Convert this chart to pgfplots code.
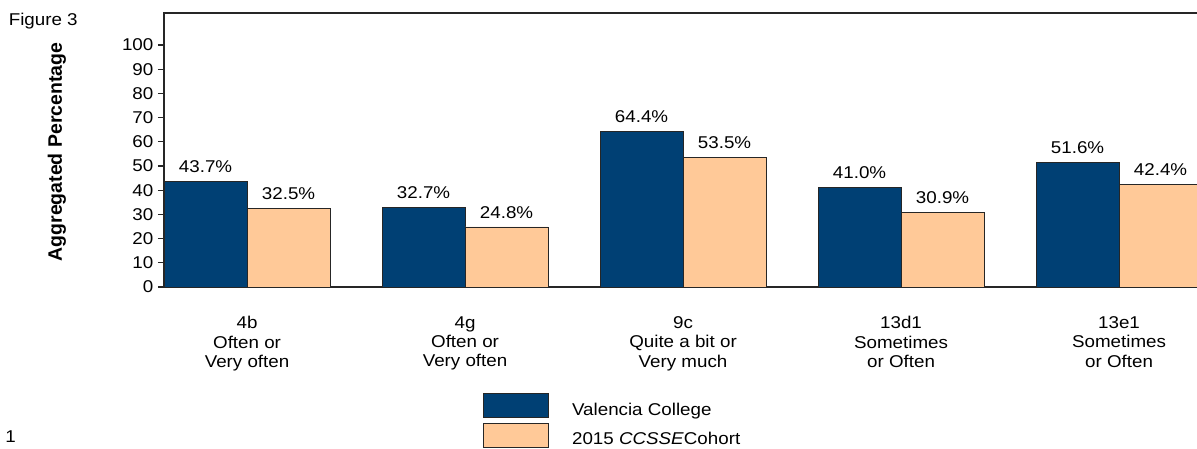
\documentclass[border=0pt]{standalone}
\usepackage{pgfplots}
\pgfplotsset{compat=1.18}
\usepackage{fontspec}
\setmainfont{Liberation Sans}[FakeStretch=1.1]
\newfontfamily\ylabfont{Liberation Sans}
\definecolor{vblue}{RGB}{0,64,116}
\definecolor{vpeach}{RGB}{255,201,152}
\begin{document}
\fontsize{12.8}{14.6}\selectfont
\begin{tikzpicture}
\begin{axis}[
  at={(0,0)}, anchor=south west,
  x=163.5pt, y=1.815pt,
  xmin=-0.381, xmax=4.381, ymin=0, ymax=113.2,
  axis line style={draw=black!85, line width=0.9pt},
  ybar, bar width=62.25pt,
  ytick={0,10,...,100},
  xtick={0,1,2,3,4},
  xticklabels={{4b\\Often or\\Very often},{4g\\Often or\\Very often},{9c\\Quite a bit or\\Very much},{13d1\\Sometimes\\or Often},{13e1\\Sometimes\\or Often}},
  x tick style={draw=none},
  y tick style={draw=black!85, line width=0.9pt},
  tick align=outside,
  major tick length=4.5pt,
  /pgf/number format/assume math mode=true,
  tick label style={font=\fontsize{12.8}{14.6}\selectfont},
  xticklabel style={align=center, yshift=-13pt},
  yticklabel style={xshift=1pt},
  ylabel={Aggregated Percentage},
  ylabel style={font=\ylabfont\bfseries\fontsize{14.6}{16}\selectfont, at={(axis description cs:-0.1031,0.4927)}, anchor=center},
  nodes near coords, point meta=explicit symbolic,
  every node near coord/.append style={font=\fontsize{12.8}{14.6}\selectfont, text=black, yshift=2pt},
  legend image code/.code={\draw[#1] (0pt,-9pt) rectangle (48.75pt,9pt);},
  legend cell align=left,
  legend style={draw=none, fill=none, at={(axis description cs:0.3073,-0.3869)}, anchor=north west, inner sep=0pt, nodes={inner sep=0pt, font=\fontsize{12.8}{14.6}\selectfont}, column sep=17.25pt, row sep=3.4pt},
]
\addplot[fill=vblue, draw=black!85, line width=0.6pt, bar shift=-31.125pt] coordinates {(0,43.7)[43.7\%] (1,32.7)[32.7\%] (2,64.4)[64.4\%] (3,41.0)[41.0\%] (4,51.6)[51.6\%]};
\addlegendentry{\raisebox{-8.25pt}[0pt][0pt]{Valencia College}}
\addplot[fill=vpeach, draw=black!85, line width=0.6pt, bar shift=31.125pt] coordinates {(0,32.5)[32.5\%] (1,24.8)[24.8\%] (2,53.5)[53.5\%] (3,30.9)[30.9\%] (4,42.4)[42.4\%]};
\addlegendentry{\raisebox{-8.25pt}[0pt][0pt]{2015 \textit{CCSSE}Cohort}}
\end{axis}
\node[anchor=base west, inner sep=0pt] at (-116.6pt,195.75pt) {Figure 3};
\node[anchor=base west, inner sep=0pt] at (-119.25pt,-117pt) {1};
\pgfresetboundingbox
\path[use as bounding box] (-123pt,-121.5pt) rectangle (774.75pt,215.25pt);
\end{tikzpicture}
\end{document}
